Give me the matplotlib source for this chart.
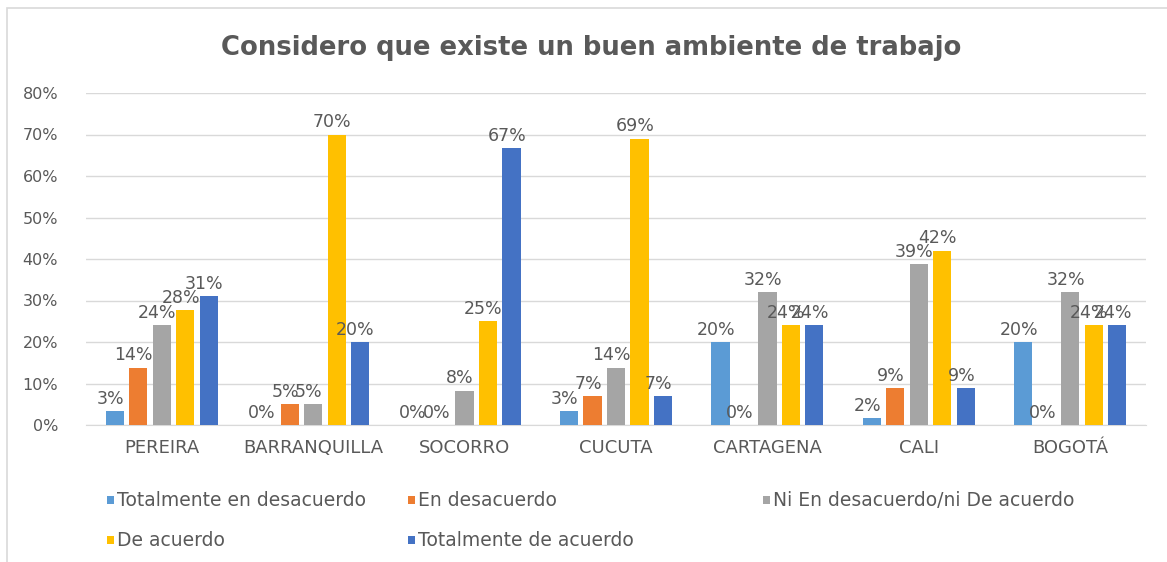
import matplotlib
matplotlib.use("Agg")
import matplotlib.pyplot as plt
from matplotlib.patches import Rectangle
import numpy as np

categories = ["PEREIRA", "BARRANQUILLA", "SOCORRO", "CUCUTA", "CARTAGENA", "CALI", "BOGOTÁ"]
series_names = ["Totalmente en desacuerdo", "En desacuerdo",
                "Ni En desacuerdo/ni De acuerdo", "De acuerdo", "Totalmente de acuerdo"]
tot_desacuerdo = [0.034, 0.0, 0.0, 0.034, 0.20, 0.016, 0.20]
en_desacuerdo = [0.138, 0.05, 0.0, 0.069, 0.0, 0.088, 0.0]
ni_ni = [0.24, 0.05, 0.083, 0.138, 0.32, 0.387, 0.32]
de_acuerdo = [0.276, 0.70, 0.25, 0.69, 0.24, 0.42, 0.24]
tot_acuerdo = [0.31, 0.20, 0.667, 0.069, 0.24, 0.088, 0.24]
series_values = [tot_desacuerdo, en_desacuerdo, ni_ni, de_acuerdo, tot_acuerdo]
colors = ["#5B9BD5", "#ED7D31", "#A5A5A5", "#FFC000", "#4472C4"]
yticks = [0, 0.1, 0.2, 0.3, 0.4, 0.5, 0.6, 0.7, 0.8]

W, H = 1167, 562
fig = plt.figure(figsize=(W / 100, H / 100), dpi=100)
font = "DejaVu Sans"
txt = "#595959"

# chart frame
fig.patches.append(Rectangle((7 / W, -0.05), 1.1, 1 - 8 / H + 0.05, transform=fig.transFigure,
                             fill=False, edgecolor="#D9D9D9", linewidth=1.2))

ax = fig.add_axes([86 / W, 1 - 425 / H, (1146 - 86) / W, (425 - 93) / H])
x = np.arange(len(categories))
step = 0.155
width = 0.12
for i, (vals, c) in enumerate(zip(series_values, colors)):
    pos = x + (i - 2) * step
    ax.bar(pos, vals, width=width, color=c, zorder=3)
    for p, v in zip(pos, vals):
        ax.text(p - 0.03, v + 0.008, f"{round(v * 100):.0f}%", ha="center", va="bottom",
                fontsize=12.5, color=txt, family=font, zorder=4)

ax.set_ylim(0, 0.8)
ax.set_xlim(-0.5, len(categories) - 0.5)
ax.set_yticks(yticks)
ax.set_yticklabels([f"{int(round(t * 100))}%" for t in yticks], family=font, fontsize=11.5, color=txt)
ax.set_xticks(x)
ax.set_xticklabels(categories, family=font, fontsize=13, color=txt)
ax.tick_params(axis="both", length=0)
ax.tick_params(axis="y", pad=20)
ax.tick_params(axis="x", pad=10)
ax.grid(axis="y", color="#D9D9D9", linewidth=1, zorder=0)
for s in ["top", "right", "left"]:
    ax.spines[s].set_visible(False)
ax.spines["bottom"].set_color("#D9D9D9")

fig.text(591 / W, 1 - 48 / H, "Considero que existe un buen ambiente de trabajo",
         ha="center", va="center", fontsize=18.6, color=txt, family=font, fontweight="bold")

# legend entries placed manually
legend_pos = [(107, 500), (408, 500), (763, 500), (107, 540), (408, 540)]
for name, c, (lx, ly) in zip(series_names, colors, legend_pos):
    fig.patches.append(Rectangle((lx / W, 1 - (ly + 4) / H), 7 / W, 8 / H,
                                 transform=fig.transFigure, facecolor=c, edgecolor="none"))
    fig.text((lx + 10) / W, 1 - ly / H, name, ha="left", va="center",
             fontsize=13.5, color=txt, family=font)

fig.savefig("out.png", dpi=100, facecolor="white")
